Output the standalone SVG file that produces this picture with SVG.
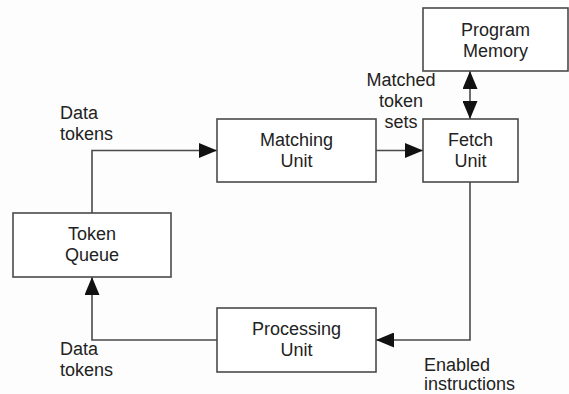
<svg xmlns="http://www.w3.org/2000/svg" width="569" height="394" viewBox="0 0 569 394">
  <style>
    .box { fill: #ffffff; stroke: #4a4a4a; stroke-width: 1.6; }
    .wire { fill: none; stroke: #4a4a4a; stroke-width: 1.6; }
    text { font-family: "Liberation Sans", Arial, sans-serif; font-size: 18px; fill: #222222; }
    .c { text-anchor: middle; }
  </style>
  <defs>
    <marker id="arrow" markerUnits="userSpaceOnUse" markerWidth="18" markerHeight="15" refX="18" refY="7.5" orient="auto-start-reverse">
      <path d="M0,0 L18,7.5 L0,15 z" fill="#111111"/>
    </marker>
  </defs>
  <rect width="569" height="394" fill="#fdfdfd"/>

  <!-- connectors -->
  <g id="connectors">
    <polyline class="wire" points="92,213 92,150.5 217,150.5" marker-end="url(#arrow)"/>
    <line class="wire" x1="376" y1="150.5" x2="423" y2="150.5" marker-end="url(#arrow)"/>
    <line class="wire" x1="470" y1="71" x2="470" y2="119" marker-start="url(#arrow)" marker-end="url(#arrow)"/>
    <polyline class="wire" points="470,182 470,340 376,340" marker-end="url(#arrow)"/>
    <polyline class="wire" points="217,340 92,340 92,277" marker-end="url(#arrow)"/>
  </g>

  <!-- connector labels -->
  <g id="labels">
    <text x="60" y="119">Data</text>
    <text x="60" y="140">tokens</text>
    <text class="c" x="401" y="86">Matched</text>
    <text class="c" x="401" y="107">token</text>
    <text class="c" x="401" y="128">sets</text>
    <text x="60" y="355">Data</text>
    <text x="60" y="376">tokens</text>
    <text x="424" y="371">Enabled</text>
    <text x="424" y="390">instructions</text>
  </g>

  <g id="program-memory">
    <rect class="box" x="423" y="8" width="145" height="63"/>
    <text class="c" x="495.5" y="36">Program</text>
    <text class="c" x="495.5" y="57">Memory</text>
  </g>

  <g id="matching-unit">
    <rect class="box" x="217" y="119" width="159" height="63"/>
    <text class="c" x="296.5" y="146">Matching</text>
    <text class="c" x="296.5" y="167">Unit</text>
  </g>

  <g id="fetch-unit">
    <rect class="box" x="423" y="119" width="95" height="63"/>
    <text class="c" x="470.5" y="146">Fetch</text>
    <text class="c" x="470.5" y="167">Unit</text>
  </g>

  <g id="token-queue">
    <rect class="box" x="13" y="213" width="158" height="64"/>
    <text class="c" x="92" y="240">Token</text>
    <text class="c" x="92" y="261">Queue</text>
  </g>

  <g id="processing-unit">
    <rect class="box" x="217" y="308" width="159" height="64"/>
    <text class="c" x="296.5" y="335">Processing</text>
    <text class="c" x="296.5" y="356">Unit</text>
  </g>
</svg>
